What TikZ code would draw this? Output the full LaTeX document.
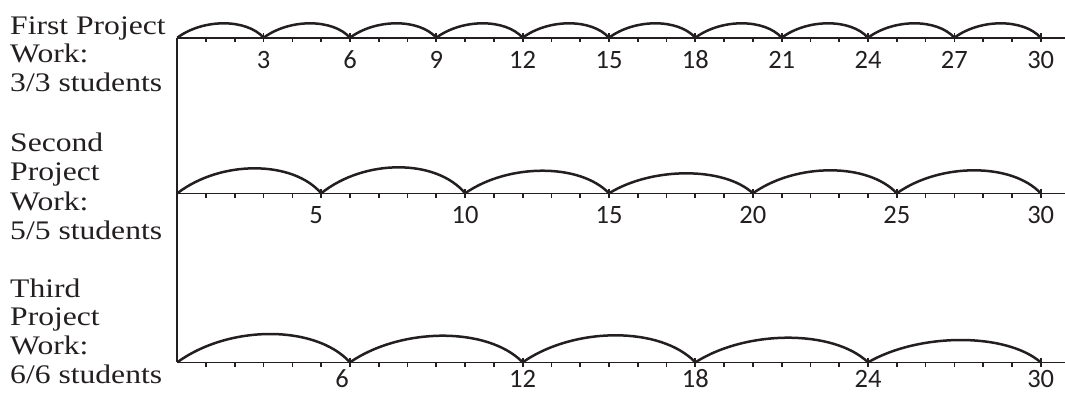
\documentclass[tikz,border=0pt]{standalone}
\usepackage{fontspec}
\setmainfont[FakeStretch=1.18]{Liberation Serif}
\newfontfamily\numfont{Carlito}
\definecolor{ink}{HTML}{231F20}
\begin{document}
\begin{tikzpicture}[x=1pt,y=-1pt,
  axisline/.style={line width=1.6pt, draw=ink},
  vaxis/.style={line width=2.3pt, draw=ink},
  tickmark/.style={line width=1.7pt, draw=ink},
  hop/.style={line width=2.5pt, draw=ink},
  numlabel/.style={font=\numfont\fontsize{26.5}{26.5}\selectfont, text=ink, anchor=base, inner sep=0pt},
  rowtext/.style={font=\fontsize{26.8}{28.7}\selectfont, text=ink, anchor=base west, inner sep=0pt}]
\useasboundingbox (0,0) rectangle (1065,392);
\def\xo{177.3}
\def\un{28.78}
\def\ya{37.7}
\def\yb{193.3}
\def\yc{362.3}
% vertical axis
\draw[vaxis] (\xo,\ya) -- (\xo,\yc);
% number lines with minor ticks
\foreach \yl in {\ya,\yb,\yc}{
  \draw[axisline] (\xo,\yl) -- (1065,\yl);
  \foreach \i in {1,...,30}
    \draw[tickmark] (\xo+\i*\un,\yl) -- ++(0,4.5);
}
% row 1: jumps of 3
\foreach \a/\h in {0/14.4,3/14.4,6/14.4,9/14.4,12/14.4,15/14.4,18/14.4,21/14.4,24/14.4,27/14.4}{
  \pgfmathsetmacro\xa{\xo+\a*\un}
  \pgfmathsetmacro\w{3*\un}
  \pgfmathsetmacro\xb{\xa+\w}
  \pgfmathsetmacro\k{1.333*\h}
  \draw[hop] (\xa,\ya) .. controls (\xa+0.3*\w,\ya-\k) and (\xa+0.8*\w,\ya-\k) .. (\xb,\ya);
  \draw[tickmark] (\xb,\ya-4.5) -- ++(0,9);
  \pgfmathtruncatemacro\lab{\a+3}
  \node[numlabel] (r1n\lab) at (\xb,\ya+30.6) {\lab};
}
% row 2: jumps of 5
\foreach \a/\h in {0/25,5/26,10/22.6,15/20,20/23,25/23}{
  \pgfmathsetmacro\xa{\xo+\a*\un}
  \pgfmathsetmacro\w{5*\un}
  \pgfmathsetmacro\xb{\xa+\w}
  \pgfmathsetmacro\k{1.333*\h}
  \draw[hop] (\xa,\yb) .. controls (\xa+0.3*\w,\yb-\k) and (\xa+0.8*\w,\yb-\k) .. (\xb,\yb);
  \draw[tickmark] (\xb,\yb-4.5) -- ++(0,9);
}
\node[numlabel] (r2n5) at (\xo+5*\un-5,\yb+30.2) {5};
\foreach \lab in {10,15,20,25,30}
  \node[numlabel] (r2n\lab) at (\xo+\lab*\un,\yb+30.2) {\lab};
% row 3: jumps of 6
\foreach \a/\h in {0/28.3,6/26.6,12/27,18/24.6,24/22.3}{
  \pgfmathsetmacro\xa{\xo+\a*\un}
  \pgfmathsetmacro\w{6*\un}
  \pgfmathsetmacro\xb{\xa+\w}
  \pgfmathsetmacro\k{1.333*\h}
  \draw[hop] (\xa,\yc) .. controls (\xa+0.3*\w,\yc-\k) and (\xa+0.8*\w,\yc-\k) .. (\xb,\yc);
  \draw[tickmark] (\xb,\yc-4.5) -- ++(0,9);
}
\node[numlabel] (r3n6) at (\xo+6*\un-8,\yc+25) {6};
\foreach \lab in {12,18,24,30}
  \node[numlabel] (r3n\lab) at (\xo+\lab*\un,\yc+25) {\lab};
% row texts
\node[rowtext] (t1a) at (10,34.3) {First Project};
\node[rowtext] (t1b) at (10,62.7) {Work:};
\node[rowtext] (t1c) at (10,91.7) {3/3 students};
\node[rowtext] (t2a) at (10,151.3) {Second};
\node[rowtext] (t2b) at (10,180) {Project};
\node[rowtext] (t2c) at (10,210) {Work:};
\node[rowtext] (t2d) at (10,239) {5/5 students};
\node[rowtext] (t3a) at (10,297.3) {Third};
\node[rowtext] (t3b) at (10,325.7) {Project};
\node[rowtext] (t3c) at (10,354) {Work:};
\node[rowtext] (t3d) at (10,383.3) {6/6 students};
\end{tikzpicture}
\end{document}
